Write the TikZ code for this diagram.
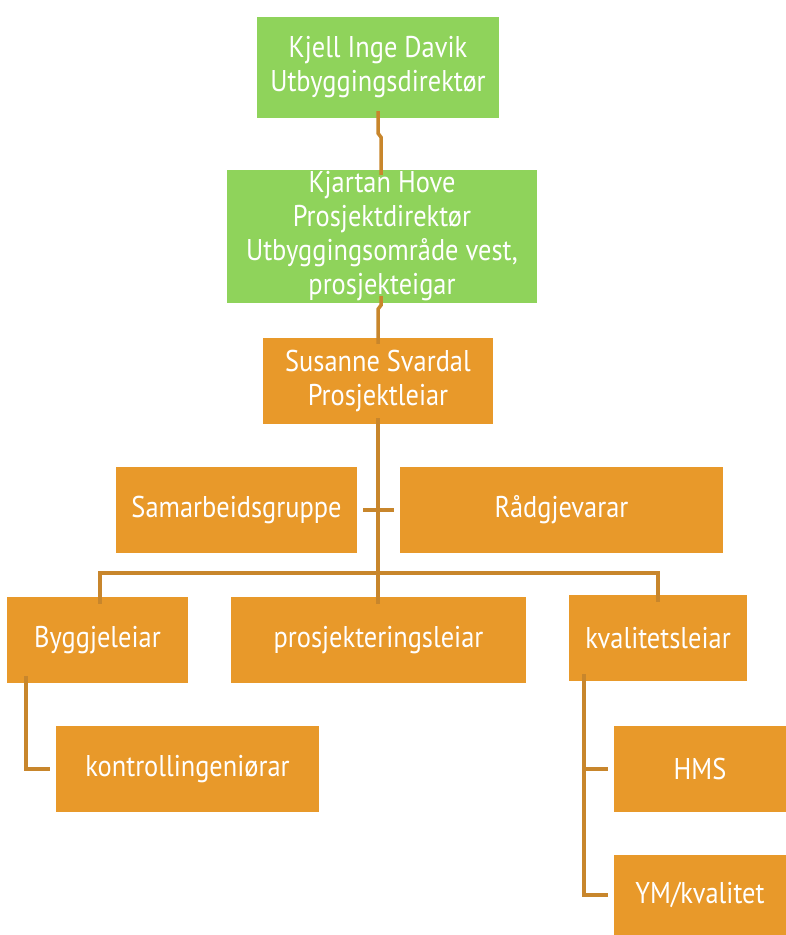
\documentclass[tikz,border=0pt]{standalone}
\usepackage{fontspec}
\setmainfont{PT Sans}[FakeStretch=0.88]
\definecolor{boxgreen}{HTML}{8FD35B}
\definecolor{boxorange}{HTML}{E8992A}
\definecolor{linkc}{HTML}{C8862C}
\begin{document}
\begin{tikzpicture}[x=1pt,y=-1pt,
  box/.style={draw=none, inner sep=0pt, align=center, text=white,
    font=\fontsize{30}{34}\selectfont},
  gbox/.style={box, fill=boxgreen},
  obox/.style={box, fill=boxorange},
  link/.style={draw=linkc, line width=3.5pt}]
\useasboundingbox (0,0) rectangle (786,935);
\fill[white] (0,0) rectangle (786,935);
% boxes (center positions, sizes in px)
\node[gbox, minimum width=242pt, minimum height=101pt] (kjell) at (378,67.5) {Kjell Inge Davik\\Utbyggingsdirektør};
\node[gbox, minimum width=310pt, minimum height=133pt] (kjartan) at (382,236.5) {Kjartan Hove\\Prosjektdirektør\\Utbyggingsområde vest,\\prosjekteigar};
\node[obox, minimum width=230pt, minimum height=86pt] (susanne) at (378,381) {Susanne Svardal\\Prosjektleiar};
\node[obox, minimum width=241pt, minimum height=86pt] (samarb) at (236.5,510) {Samarbeidsgruppe};
\node[obox, minimum width=323pt, minimum height=86pt] (radg) at (561.5,510) {Rådgjevarar};
\node[obox, minimum width=181pt, minimum height=86pt] (byggje) at (97.5,640) {Byggjeleiar};
\node[obox, minimum width=295pt, minimum height=86pt] (prosj) at (378.5,640) {prosjekteringsleiar};
\node[obox, minimum width=178pt, minimum height=86pt] (kval) at (658,638) {kvalitetsleiar};
\node[obox, minimum width=263pt, minimum height=86pt] (kontroll) at (187.5,769) {kontrollingeniørar};
\node[obox, minimum width=172pt, minimum height=86pt] (hms) at (700,769) {HMS};
\node[obox, minimum width=172pt, minimum height=80pt] (ym) at (700,895) {YM/kvalitet};
% connection points
\coordinate (hub) at (378,573);
% connectors
\draw[link] ([yshift=7pt]kjell.south) -- ++(0,22) -- ++(3,4) |- ([yshift=-5pt]kjartan.north -| 381,0);
\draw[link] ([yshift=7pt]kjartan.south -| 381,0) -- ++(0,9) -- ++(-3,4) |- ([yshift=-6pt]susanne.north);
\draw[link] ([yshift=6pt]susanne.south) -- (hub);
\draw[link] ([xshift=6pt]samarb.east) -- ([xshift=-6pt]radg.west);
\draw[link] (hub) -- ([yshift=-7pt]prosj.north -| hub);
\draw[link] (hub) -| ([yshift=-7pt]byggje.north -| 100,0);
\draw[link] (hub) -| ([yshift=-7pt]kval.north);
\draw[link] ([yshift=7pt]byggje.south -| 26,0) |- ([xshift=-6pt]kontroll.west);
\draw[link] ([yshift=7pt]kval.south -| 584,0) |- ([xshift=-6pt]hms.west);
\draw[link] ([yshift=7pt]kval.south -| 584,0) |- ([xshift=-6pt]ym.west);
\end{tikzpicture}
\end{document}
